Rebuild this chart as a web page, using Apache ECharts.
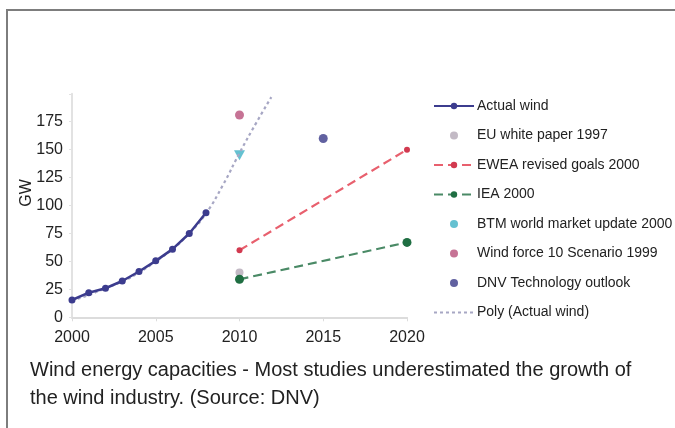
<!DOCTYPE html>
<html>
<head>
<meta charset="utf-8">
<script src="https://cdn.jsdelivr.net/npm/echarts@6/dist/echarts.min.js"></script>
<style>
  html, body { margin: 0; padding: 0; background: #fff; }
  #frame { position: absolute; left: 6px; top: 9px; width: 669px; height: 419px;
           border-top: 2px solid #7d7d7d; border-left: 2px solid #7d7d7d; box-sizing: border-box; }
  #chart { position: absolute; left: 0; top: 0; width: 675px; height: 428px; }
</style>
</head>
<body>
<div id="frame"></div>
<div id="chart"></div>
<script>
// Installed wind capacity (GW) and the forecasts made for it
const actualYears = [2000, 2001, 2002, 2003, 2004, 2005, 2006, 2007, 2008];
const actualWind = [15.5, 22, 26, 32.5, 41, 50.5, 61, 75, 93.5];

const polyYears = [2000, 2001, 2002, 2003, 2004, 2005, 2006, 2007, 2008, 2009, 2010, 2011, 2011.9];
const polyWind = [15, 20, 26, 32, 40, 50, 61, 75, 93, 118, 147, 174, 197];

const euWhitePaper = [[2010, 40]];
const ewea2000Years = [2010, 2020];
const ewea2000 = [60, 150];
const iea2000Years = [2010, 2020];
const iea2000 = [34, 67];
const btm2000 = [[2010, 145]];
const windForce10 = [[2010, 181]];
const dnvOutlook = [[2015, 160]];

const yTicks = [0, 25, 50, 75, 100, 125, 150, 175];
const xTicks = [2000, 2005, 2010, 2015, 2020];
const yAxisTitle = 'GW';

const caption = [
  'Wind energy capacities - Most studies underestimated the growth of',
  'the wind industry. (Source: DNV)'
];

const pairs = (xs, ys) => xs.map((x, i) => [x, ys[i]]);

const chart = echarts.init(document.getElementById('chart'), null, { renderer: 'canvas' });
const font = 'Liberation Sans, Arial, sans-serif';

chart.setOption({
  animation: false,
  textStyle: { fontFamily: font },
  grid: { left: 72, right: 268, top: 93.8, bottom: 110.7, containLabel: false },
  xAxis: {
    type: 'value', min: 2000, max: 2020, interval: 5,
    axisLine: { lineStyle: { color: '#dcdcdc', width: 2 } },
    axisTick: { show: true, length: 4, lineStyle: { color: '#dcdcdc' } },
    splitLine: { show: false },
    axisLabel: {
      color: '#222', fontSize: 16, margin: 12, fontFamily: font,
      formatter: v => (xTicks.includes(v) ? String(v) : '')
    }
  },
  yAxis: {
    type: 'value', min: 0, max: 200, interval: 25,
    axisLine: { show: true, lineStyle: { color: '#e2e2e2', width: 2 } },
    axisTick: { show: true, length: 3, lineStyle: { color: '#e2e2e2' } },
    splitLine: { show: false },
    axisLabel: {
      color: '#222', fontSize: 16, margin: 9, fontFamily: font,
      formatter: v => (yTicks.includes(v) ? String(v) : '')
    }
  },
  legend: {
    orient: 'vertical', left: 428, top: 94,
    itemWidth: 40, itemHeight: 8, itemGap: 15.5,
    textStyle: { color: '#222', fontSize: 14, fontFamily: font, padding: [0, 0, 0, -2] },
    data: [
      { name: 'Actual wind' },
      { name: 'EU white paper 1997', icon: 'circle' },
      { name: 'EWEA revised goals 2000' },
      { name: 'IEA 2000' },
      { name: 'BTM world market update 2000', icon: 'circle' },
      { name: 'Wind force 10 Scenario 1999', icon: 'circle' },
      { name: 'DNV Technology outlook', icon: 'circle' },
      { name: 'Poly (Actual wind)' }
    ]
  },
  series: [
    {
      name: 'Poly (Actual wind)', type: 'line', smooth: true, symbol: 'none',
      data: pairs(polyYears, polyWind),
      lineStyle: { color: '#a7a7c4', width: 2.2, type: [3, 3] },
      itemStyle: { color: 'rgba(0,0,0,0)', borderWidth: 0 }
    },
    {
      name: 'Actual wind', type: 'line', symbol: 'circle', symbolSize: 7,
      data: pairs(actualYears, actualWind),
      lineStyle: { color: '#3c3c8e', width: 2.5 },
      itemStyle: { color: '#3c3c8e' }
    },
    {
      name: 'EU white paper 1997', type: 'scatter', symbol: 'circle', symbolSize: 8,
      data: euWhitePaper, itemStyle: { color: '#b4a9b6' }
    },
    {
      name: 'EWEA revised goals 2000', type: 'line', symbol: 'circle', symbolSize: 6,
      data: pairs(ewea2000Years, ewea2000),
      lineStyle: { color: '#e8606e', width: 2.2, type: [9, 5] },
      itemStyle: { color: '#d23a50' }
    },
    {
      name: 'IEA 2000', type: 'line', symbol: 'circle', symbolSize: 9,
      data: pairs(iea2000Years, iea2000),
      lineStyle: { color: '#4a8a66', width: 2.2, type: [9, 5] },
      itemStyle: { color: '#1f6e42' }
    },
    {
      name: 'BTM world market update 2000', type: 'scatter', symbol: 'triangle',
      symbolRotate: 180, symbolSize: [11, 10],
      data: btm2000, itemStyle: { color: '#3fb2c6' }
    },
    {
      name: 'Wind force 10 Scenario 1999', type: 'scatter', symbol: 'circle', symbolSize: 9,
      data: windForce10, itemStyle: { color: '#b8507a' }
    },
    {
      name: 'DNV Technology outlook', type: 'scatter', symbol: 'circle', symbolSize: 9,
      data: dnvOutlook, itemStyle: { color: '#3a3a88' }
    }
  ],
  graphic: [
    {
      type: 'text', x: 27, y: 193, rotation: Math.PI / 2,
      style: { text: yAxisTitle, fill: '#222', font: '16px ' + font, align: 'center', verticalAlign: 'middle' }
    }
  ].concat(caption.map((line, i) => ({
    type: 'text', left: 30, top: 360 + i * 28.5,
    style: { text: line, fill: '#222', font: '20px ' + font }
  })))
});
</script>
</body>
</html>
